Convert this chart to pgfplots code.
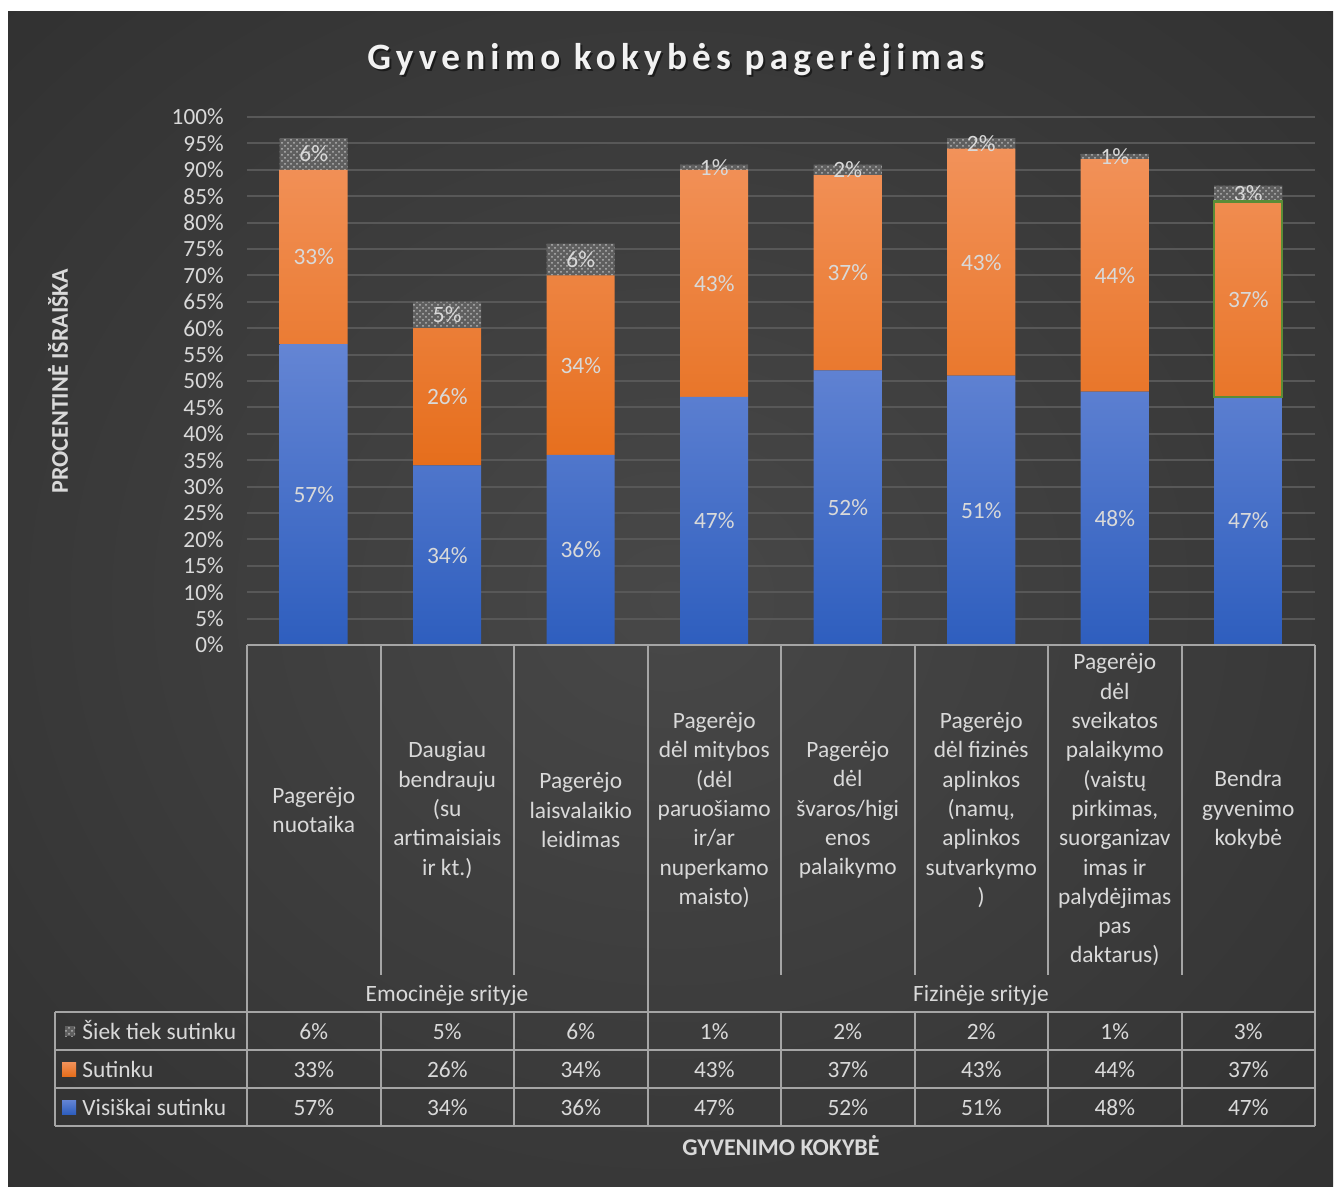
\documentclass[border=0pt]{standalone}
\usepackage{pgfplots}
\pgfplotsset{compat=1.18}
\usepackage{fontspec}
\setmainfont{Carlito}
\newfontfamily\titlefont[LetterSpace=14]{Carlito}
\usetikzlibrary{patterns}
\definecolor{bgin}{RGB}{72,72,72}
\definecolor{bgout}{RGB}{40,40,40}
\definecolor{txt}{RGB}{217,217,217}
\definecolor{gridc}{RGB}{88,88,88}
\definecolor{linec}{RGB}{165,165,165}
\definecolor{bluetop}{RGB}{100,133,212}
\definecolor{bluebot}{RGB}{46,94,190}
\definecolor{oratop}{RGB}{242,146,90}
\definecolor{orabot}{RGB}{230,110,28}
\definecolor{grayfill}{RGB}{95,95,95}
\definecolor{speck}{RGB}{180,180,180}
\definecolor{edgegreen}{RGB}{90,140,55}
\pgfdeclareradialshading{bgshade}{\pgfpoint{0bp}{0bp}}{color(0bp)=(bgin); color(50bp)=(bgout)}
\newcommand\tfont{\fontsize{11.7}{14.65}\selectfont}
\pgfplotsset{
  centered nodes/.style={
    nodes near coords={\pgfmathprintnumber{\pgfplotspointmeta}\%},
    every node near coord/.append style={text=txt, font=\tfont, anchor=center}
  }
}
\begin{document}
\begin{tikzpicture}
\fill[white] (0pt,0pt) rectangle (667.5pt,-593.5pt);
\shade[shading=bgshade] (4pt,-6pt) rectangle (666.5pt,-593.5pt);
\begin{axis}[
  at={(123.5pt,-322.5pt)}, anchor=south west,
  scale only axis, width=534pt, height=264pt,
  xmin=-0.5, xmax=7.5, ymin=0, ymax=100,
  ybar stacked, bar width=34pt,
  axis line style={draw=none},
  major tick length=0pt,
  ytick={0,5,...,100},
  yticklabel={\pgfmathprintnumber{\tick}\%},
  /pgf/number format/assume math mode=true,
  yticklabel style={anchor=east, inner sep=0pt, xshift=-11.5pt, text=txt, font=\fontsize{11.6}{13}\selectfont},
  ymajorgrids, grid style={draw=gridc, line width=1pt},
  xtick={0,...,7},
  xticklabels={{Pagerėjo\\nuotaika},
    {Daugiau\\bendrauju\\(su\\artimaisiais\\ir kt.)},
    {Pagerėjo\\laisvalaikio\\leidimas},
    {Pagerėjo\\dėl mitybos\\(dėl\\paruošiamo\\ir/ar\\nuperkamo\\maisto)},
    {Pagerėjo\\dėl\\švaros/higi\\enos\\palaikymo},
    {Pagerėjo\\dėl fizinės\\aplinkos\\(namų,\\aplinkos\\sutvarkymo\\)},
    {Pagerėjo\\dėl\\sveikatos\\palaikymo\\(vaistų\\pirkimas,\\suorganizav\\imas ir\\palydėjimas\\pas\\daktarus)},
    {Bendra\\gyvenimo\\kokybė}},
  xticklabel style={align=center, anchor=center, yshift=-82.5pt, text=txt, font=\tfont},
  clip=false,
  after end axis/.append code={
    \draw[edgegreen, line width=1.2pt] (axis cs:6.745,47) rectangle (axis cs:7.255,84);
  },
]
\addplot[draw=none, top color=bluetop, bottom color=bluebot, centered nodes]
  coordinates {(0,57) (1,34) (2,36) (3,47) (4,52) (5,51) (6,48) (7,47)};
\addplot[draw=none, top color=oratop, bottom color=orabot, centered nodes]
  coordinates {(0,33) (1,26) (2,34) (3,43) (4,37) (5,43) (6,44) (7,37)};
\addplot[draw=none, fill=grayfill, postaction={pattern=crosshatch dots, pattern color=speck}, centered nodes]
  coordinates {(0,6) (1,5) (2,6) (3,1) (4,2) (5,2) (6,1) (7,3)};
\end{axis}
\begin{scope}[x=0.5pt, y=-0.5pt]
% title
\node[text=black, opacity=0.5, font=\titlefont\bfseries\fontsize{18.6}{21}\selectfont] at (678,62) {Gyvenimo kokybės pagerėjimas};
\node[text=white!95!black, font=\titlefont\bfseries\fontsize{18.6}{21}\selectfont] at (676,60) {Gyvenimo kokybės pagerėjimas};
% axis labels
\node[rotate=90, text=txt, font=\bfseries\fontsize{12}{14}\selectfont] at (58,381) {PROCENTINĖ IŠRAIŠKA};
\node[text=txt, font=\bfseries\fontsize{12}{14}\selectfont] at (781,1146) {GYVENIMO KOKYBĖ};
% table lines
\begin{scope}[linec, line width=1pt]
\draw (247,645) -- (1315,645);
\foreach \x in {380.5,514,781,914.5,1048,1181.5} \draw (\x,645) -- (\x,975);
\foreach \x in {247,647.5,1315} \draw (\x,645) -- (\x,1126);
\foreach \x in {380.5,514,781,914.5,1048,1181.5} \draw (\x,1012) -- (\x,1126);
\draw (55,1012) -- (55,1126);
\foreach \y in {1012,1050,1088,1126} \draw (55,\y) -- (1315,\y);
\end{scope}
% group labels
\node[text=txt, font=\tfont, anchor=base] at (447,1001) {Emocinėje srityje};
\node[text=txt, font=\tfont, anchor=base] at (981,1001) {Fizinėje srityje};
% legend column
\fill[grayfill] (65,1026) rectangle (75,1036);
\fill[pattern=crosshatch dots, pattern color=speck] (65,1026) rectangle (75,1036);
\shade[top color=oratop, bottom color=orabot] (62,1062) rectangle (76,1076);
\shade[top color=bluetop, bottom color=bluebot] (62,1100) rectangle (76,1114);
\node[text=txt, font=\tfont, anchor=base west, inner sep=0pt] at (82,1039) {Šiek tiek sutinku};
\node[text=txt, font=\tfont, anchor=base west, inner sep=0pt] at (82,1077) {Sutinku};
\node[text=txt, font=\tfont, anchor=base west, inner sep=0pt] at (82,1115) {Visiškai sutinku};
% values
\foreach \x/\v in {313.75/6,447.25/5,580.75/6,714.25/1,847.75/2,981.25/2,1114.75/1,1248.25/3}
  \node[text=txt, font=\tfont, anchor=base, inner sep=0pt] at (\x,1039) {\v\%};
\foreach \x/\v in {313.75/33,447.25/26,580.75/34,714.25/43,847.75/37,981.25/43,1114.75/44,1248.25/37}
  \node[text=txt, font=\tfont, anchor=base, inner sep=0pt] at (\x,1077) {\v\%};
\foreach \x/\v in {313.75/57,447.25/34,580.75/36,714.25/47,847.75/52,981.25/51,1114.75/48,1248.25/47}
  \node[text=txt, font=\tfont, anchor=base, inner sep=0pt] at (\x,1115) {\v\%};
\end{scope}
\end{tikzpicture}
\end{document}
